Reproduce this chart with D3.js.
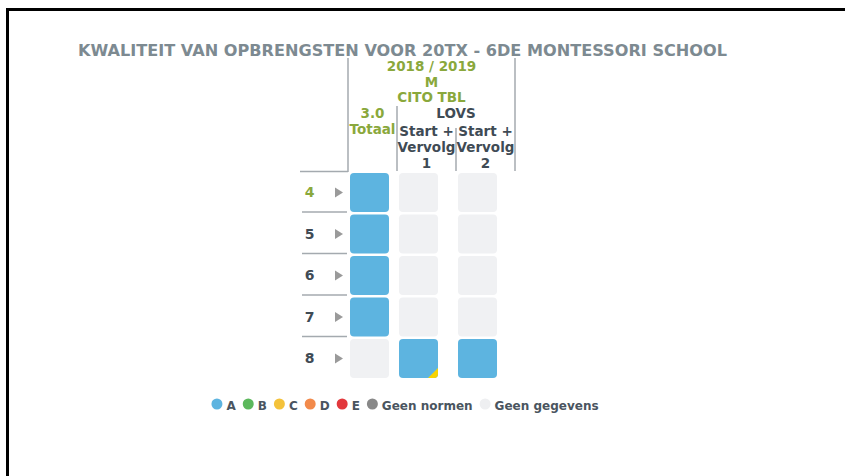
<!DOCTYPE html>
<html>
<head>
<meta charset="utf-8">
<style>
    body { margin: 0; background: #fff; }
    svg { display: block; font-family: 'DejaVu Sans', Verdana, sans-serif; font-weight: bold; }
    .title { fill: #7d8a91; font-size: 16px; }
    .hdr { font-size: 13.5px; text-anchor: middle; }
    .green { fill: #8aa83c; }
    .dark { fill: #3f4b55; }
    .rule { stroke: #a4aaaf; stroke-width: 1.5px; fill: none; }
    .rowlabel { font-size: 14px; text-anchor: middle; }
    .legend { font-size: 12px; fill: #4a5560; }
</style>
</head>
<body>
<svg id="chart" width="845" height="476"></svg>
<script src="https://cdn.jsdelivr.net/npm/d3@7/dist/d3.min.js"></script>
<script>
    // ---- data ----
    var title = 'KWALITEIT VAN OPBRENGSTEN VOOR 20TX - 6DE MONTESSORI SCHOOL';
    var period = ['2018 / 2019', 'M', 'CITO TBL'];
    var columns = ['totaal', 'lovs1', 'lovs2'];
    var columnHeads = [['3.0', 'Totaal'], ['Start +', 'Vervolg', '1'], ['Start +', 'Vervolg', '2']];
    var groupLabel = 'LOVS';
    var rows = ['4', '5', '6', '7', '8'];
    var activeRow = '4';
    // status per column, one entry per row ('-' = geen gegevens)
    var totaal = ['A', 'A', 'A', 'A', '-'];
    var lovs1  = ['-', '-', '-', '-', 'A'];
    var lovs2  = ['-', '-', '-', '-', 'A'];
    // small corner marker per cell
    var lovs1Corner = [null, null, null, null, 'C'];
    var legendKeys   = ['A', 'B', 'C', 'D', 'E', 'N', '-'];
    var legendLabels = ['A', 'B', 'C', 'D', 'E', 'Geen normen', 'Geen gegevens'];

    // ---- layout ----
    var colWidths = [49, 59, 59];
    var gridLeft = 348, gridTop = 172, rowStep = 41.5;
    var labelLeft = 300;

    var color = d3.scaleOrdinal()
        .domain(legendKeys)
        .range(['#5db4e0', '#5cb85c', '#f4c23a', '#f28a4b', '#e2383c', '#888888', '#eeeff1']);
    var cornerColor = '#f8d300';

    var edges = [0].concat(Array.from(d3.cumsum(colWidths)));
    var x = d3.scaleOrdinal().domain(columns).range(edges.map(function(e){ return gridLeft + e; }));
    var colW = d3.scaleOrdinal().domain(columns).range(colWidths);
    var gridRight = gridLeft + edges[edges.length - 1];
    var y = d3.scaleBand().domain(rows).range([gridTop, gridTop + rowStep * rows.length]);

    var svg = d3.select('#chart');

    // outer frame
    svg.append('rect').attr('x', 6).attr('y', 8).attr('width', 845).attr('height', 3).attr('fill', '#000');
    svg.append('rect').attr('x', 6).attr('y', 8).attr('width', 3).attr('height', 476).attr('fill', '#000');

    svg.append('text').attr('class', 'title')
        .attr('x', 78).attr('y', 55.5)
        .attr('textLength', 649).attr('lengthAdjust', 'spacingAndGlyphs')
        .text(title);

    // header rules
    var line = d3.line();
    svg.append('path').attr('class', 'rule').attr('d', line([[gridLeft, 58], [gridLeft, gridTop]]));
    svg.append('path').attr('class', 'rule').attr('d', line([[gridRight, 58], [gridRight, gridTop - 1]]));
    svg.append('path').attr('class', 'rule').attr('d', line([[x('lovs1'), 106], [x('lovs1'), gridTop - 1]]));
    svg.append('path').attr('class', 'rule').attr('d', line([[x('lovs2'), 128], [x('lovs2'), gridTop - 1]]));
    svg.append('path').attr('class', 'rule').attr('d', line([[labelLeft, gridTop - 0.5], [gridLeft, gridTop - 0.5]]));

    // header text
    var mid = (gridLeft + gridRight) / 2;
    period.forEach(function(t, i) {
        svg.append('text').attr('class', 'hdr green').attr('x', mid).attr('y', 71 + i * 15.7).text(t);
    });
    svg.append('text').attr('class', 'hdr dark')
        .attr('x', (x('lovs1') + gridRight) / 2).attr('y', 118).text(groupLabel);
    columns.forEach(function(c, ci) {
        var heads = columnHeads[ci];
        var cx = x(c) + colW(c) / 2;
        var startY = heads.length === 2 ? 118 : 136;
        heads.forEach(function(t, i) {
            svg.append('text').attr('class', 'hdr ' + (ci === 0 ? 'green' : 'dark'))
                .attr('x', cx).attr('y', startY + i * 16.2).text(t);
        });
    });

    // row labels, arrows and separators
    var rowG = svg.append('g').selectAll('g').data(rows).join('g')
        .attr('transform', function(d){ return 'translate(0,' + y(d) + ')'; });
    rowG.append('text').attr('class', function(d){ return 'rowlabel ' + (d === activeRow ? 'green' : 'dark'); })
        .attr('x', 309.5).attr('y', 20 + 5).text(function(d){ return d; });
    rowG.append('path').attr('fill', '#9a9a9a')
        .attr('d', 'M335,15.5 L343,20.5 L335,25.5 Z');
    rowG.filter(function(d, i){ return i < rows.length - 1; })
        .append('path').attr('class', 'rule')
        .attr('d', line([[labelLeft + 2, rowStep - 1.5], [gridLeft - 1, rowStep - 1.5]]));

    // cells
    var series = {totaal: totaal, lovs1: lovs1, lovs2: lovs2};
    var corners = {lovs1: lovs1Corner};
    var cells = [];
    columns.forEach(function(c) {
        rows.forEach(function(r, i) {
            cells.push({col: c, row: r, v: series[c][i], corner: corners[c] ? corners[c][i] : null});
        });
    });
    var cs = 39;
    var defs = svg.append('defs');
    var cellG = svg.append('g').selectAll('g').data(cells).join('g')
        .attr('transform', function(d){ return 'translate(' + (x(d.col) + 2) + ',' + (y(d.row) + 1) + ')'; });
    cellG.append('rect')
        .attr('width', cs).attr('height', cs).attr('rx', 4)
        .attr('fill', function(d){ return d.v === '-' ? '#f0f1f3' : color(d.v); });
    cellG.filter(function(d){ return d.corner; }).each(function(d, i) {
        var id = 'clip' + i;
        defs.append('clipPath').attr('id', id)
            .append('rect').attr('width', cs).attr('height', cs).attr('rx', 4);
        d3.select(this).append('path')
            .attr('clip-path', 'url(#' + id + ')')
            .attr('fill', cornerColor)
            .attr('d', 'M' + cs + ',' + (cs - 10) + ' L' + cs + ',' + cs + ' L' + (cs - 10) + ',' + cs + ' Z');
    });

    // legend
    var legend = svg.append('g');
    var lx = 0;
    legendKeys.forEach(function(k, i) {
        legend.append('circle').attr('cx', lx + 5.5).attr('cy', 404).attr('r', 5.5).attr('fill', color(k));
        var t = legend.append('text').attr('class', 'legend').attr('x', lx + 15).attr('y', 410).text(legendLabels[i]);
        lx += 15 + t.node().getComputedTextLength() + 7;
    });
    legend.attr('transform', 'translate(' + (405 - (lx - 7) / 2) + ',0)');
</script>
</body>
</html>
